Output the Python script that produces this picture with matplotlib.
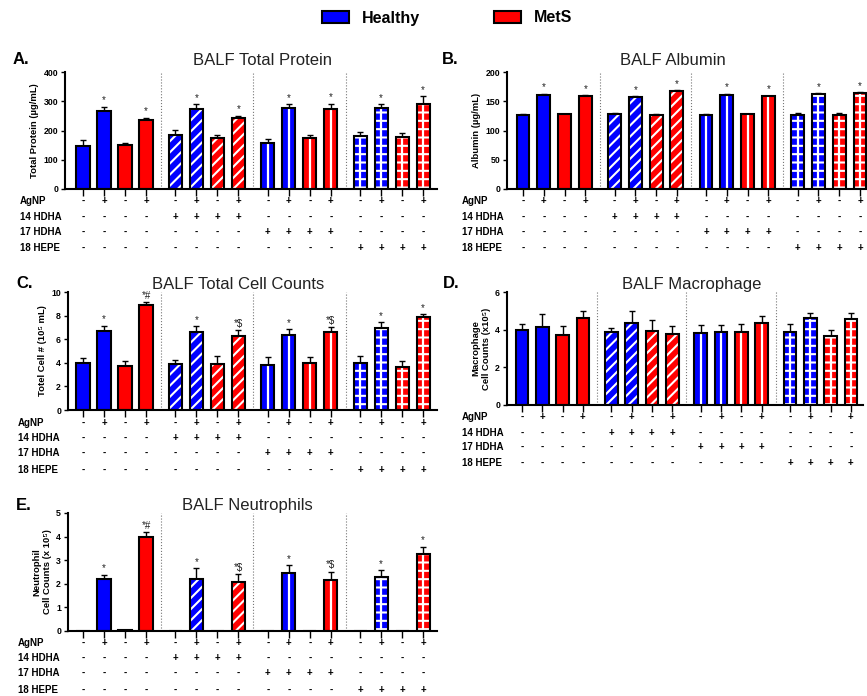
import matplotlib
matplotlib.use("Agg")
import matplotlib.pyplot as plt
import matplotlib.transforms as mtransforms
from matplotlib.patches import Patch
import numpy as np

plt.rcParams['font.family'] = ['Liberation Sans', 'DejaVu Sans']
plt.rcParams['hatch.linewidth'] = 1.5

# ---- data (4 treatment groups x [Healthy -, Healthy +, MetS -, MetS +]) ----
row_names = ['AgNP', '14 HDHA', '17 HDHA', '18 HEPE']
agnp = ['-', '+', '-', '+'] * 4

protein_mean = [147, 267, 150, 235, 186, 275, 176, 243, 158, 276, 176, 275, 182, 277, 178, 292]
protein_sem = [20, 14, 8, 9, 17, 14, 8, 8, 12, 14, 8, 17, 12, 12, 12, 26]

albumin_mean = [127, 161, 128, 158.5, 129, 157, 127, 167.5, 127, 161, 128, 158.5, 127, 162, 127, 163.5]
albumin_sem = [1.5, 1.5, 1, 1.5, 1, 2, 1, 1, 1.5, 1.5, 1, 1, 3, 2, 3, 1.5]

cells_mean = [3.97, 6.71, 3.77, 8.87, 3.88, 6.57, 3.91, 6.29, 3.82, 6.35, 3.97, 6.57, 3.97, 6.91, 3.63, 7.88]
cells_sem = [0.42, 0.43, 0.39, 0.28, 0.37, 0.51, 0.68, 0.48, 0.63, 0.51, 0.51, 0.46, 0.62, 0.51, 0.53, 0.25]

macro_mean = [3.97, 4.15, 3.74, 4.64, 3.88, 4.37, 3.92, 3.79, 3.83, 3.90, 3.86, 4.37, 3.86, 4.60, 3.65, 4.57]
macro_sem = [0.35, 0.67, 0.46, 0.33, 0.23, 0.64, 0.61, 0.43, 0.42, 0.35, 0.43, 0.34, 0.44, 0.30, 0.32, 0.32]

neut_mean = [0, 2.20, 0.03, 3.98, 0, 2.22, 0, 2.07, 0, 2.45, 0, 2.18, 0, 2.29, 0, 3.26]
neut_sem = [0, 0.18, 0, 0.20, 0, 0.43, 0, 0.34, 0, 0.33, 0, 0.33, 0, 0.29, 0, 0.32]

stars_simple = ['', '*', '', '*'] * 4
stars_cells = ['', '*', '', '*#', '', '*', '', '*$', '', '*', '', '*$', '', '*', '', '*']
stars_none = [''] * 16

BLUE = '#0000ff'
RED = '#ff0000'
colors = [BLUE, BLUE, RED, RED] * 4
hatches = ['', '///', '', '--']

W, H = 867, 696
fig = plt.figure(figsize=(W / 100, H / 100), dpi=100)

pos = np.array([g * 4.4 + j for g in range(4) for j in range(4)])


def make_axes(left, right, top, bottom, first_px, unit):
    ax = fig.add_axes([left / W, 1 - bottom / H, (right - left) / W, (bottom - top) / H])
    x0 = -(first_px - left) / unit
    ax.set_xlim(x0, x0 + (right - left) / unit)
    return ax, bottom - top


def draw_panel(ax, h_px, mean, sem, stars, ymax, yticks, ylabel, title, title_x, title_pad,
               letter, letter_xy, label_x, rows_dy):
    mean = np.array(mean)
    sem = np.array(sem)
    for g in range(4):
        idx = slice(g * 4, g * 4 + 4)
        ax.bar(pos[idx], mean[idx], width=0.62, color=colors[g * 4:g * 4 + 4],
               edgecolor='white', hatch=hatches[g], linewidth=0, zorder=2)
        if g >= 2:
            ax.vlines(pos[idx], 0, mean[idx], color='white', lw=1.6, zorder=3)
    ax.bar(pos, mean, width=0.62, fill=False, edgecolor='black', linewidth=1.5, zorder=4)
    has = sem > 0
    ax.errorbar(pos[has], mean[has], yerr=[np.zeros(has.sum()), sem[has]], fmt='none',
                ecolor='black', elinewidth=1, capsize=2.5, capthick=1, zorder=1)
    for x, m, s, st in zip(pos, mean, sem, stars):
        if st:
            ax.annotate(st, (x, m + s), xytext=(0, 1), textcoords='offset points',
                        ha='center', va='bottom', fontsize=7, color='#222222')
    for g in range(1, 4):
        ax.axvline((pos[g * 4 - 1] + pos[g * 4]) / 2, color='#777777', ls=':', lw=0.8, zorder=0)

    ax.set_ylim(0, ymax)
    ax.set_yticks(yticks)
    ax.set_yticklabels([str(t) for t in yticks], fontweight='bold', fontsize=6.3)
    ax.set_ylabel(ylabel, fontweight='bold', fontsize=6.8, labelpad=3)
    ax.set_xticks(pos)
    ax.set_xticklabels([])
    ax.tick_params(axis='x', length=5, width=1)
    ax.tick_params(axis='y', length=3, width=1, pad=2)
    for s in ['top', 'right']:
        ax.spines[s].set_visible(False)
    for s in ['left', 'bottom']:
        ax.spines[s].set_linewidth(1.5)

    ax.set_title(title, x=title_x, pad=title_pad, fontsize=12, color='#222222')
    fig.text(letter_xy[0] / W, 1 - letter_xy[1] / H, letter, fontsize=12,
             fontweight='bold', va='baseline')

    # treatment table below the axis
    rows = [agnp,
            ['+' if g == 1 else '-' for g in range(4) for _ in range(4)],
            ['+' if g == 2 else '-' for g in range(4) for _ in range(4)],
            ['+' if g == 3 else '-' for g in range(4) for _ in range(4)]]
    tr = ax.get_xaxis_transform()
    tr_lab = mtransforms.blended_transform_factory(fig.transFigure, ax.transAxes)
    for r, (name, signs) in enumerate(zip(row_names, rows)):
        yy = -rows_dy[r] / h_px
        ax.text(label_x, yy, name, transform=tr_lab, fontsize=7, fontweight='bold',
                ha='left', va='center')
        for x, sg in zip(pos, signs):
            ax.text(x, yy, sg, transform=tr, fontsize=7, fontweight='bold',
                    ha='center', va='center')


axA, hA = make_axes(65, 437, 72, 189, 83, 21)
draw_panel(axA, hA, protein_mean, protein_sem, stars_simple, 400, [0, 100, 200, 300, 400],
           'Total Protein (µg/mL)', 'BALF Total Protein', 0.53, 5, 'A.', (13, 64), 20 / W,
           [12, 28, 43, 59])

axB, hB = make_axes(507, 880, 72, 189, 523, 20.8)
draw_panel(axB, hB, albumin_mean, albumin_sem, stars_simple, 200, [0, 50, 100, 150, 200],
           'Albumin (µg/mL)', 'BALF Albumin', 0.445, 5, 'B.', (442, 64), 462 / W,
           [12, 28, 43, 59])

axC, hC = make_axes(68, 437, 292, 410, 83, 21)
draw_panel(axC, hC, cells_mean, cells_sem, stars_cells, 10, [0, 2, 4, 6, 8, 10],
           'Totel Cell # (10⁵ mL)', 'BALF Total Cell Counts', 0.46, 2, 'C.', (16, 288), 18 / W,
           [13, 28, 43, 60])

axD, hD = make_axes(507, 863, 292, 405, 522, 20.3)
draw_panel(axD, hD, macro_mean, macro_sem, stars_none, 6, [0, 2, 4, 6],
           'Macrophage\nCell Counts (x10⁵)', 'BALF Macrophage', 0.52, 2, 'D.', (443, 288), 462 / W,
           [12, 28, 42, 58])

axE, hE = make_axes(68, 437, 513, 631, 83, 21)
draw_panel(axE, hE, neut_mean, neut_sem, stars_cells, 5, [0, 1, 2, 3, 4, 5],
           'Neutrophil\nCell Counts (x 10⁵)', 'BALF Neutrophils', 0.485, 2, 'E.', (16, 510), 18 / W,
           [12, 27, 42, 59])

handles = [Patch(facecolor=BLUE, edgecolor='black', linewidth=1.5, label='Healthy'),
           Patch(facecolor=RED, edgecolor='black', linewidth=1.5, label='MetS')]
fig.legend(handles=handles, loc='center', bbox_to_anchor=(447 / W, 1 - 18 / H), ncol=2,
           frameon=False, prop={'weight': 'bold', 'size': 11.5}, handlelength=1.7,
           handleheight=0.8, handletextpad=0.8, columnspacing=4.6)

fig.savefig('out.png', dpi=100)
